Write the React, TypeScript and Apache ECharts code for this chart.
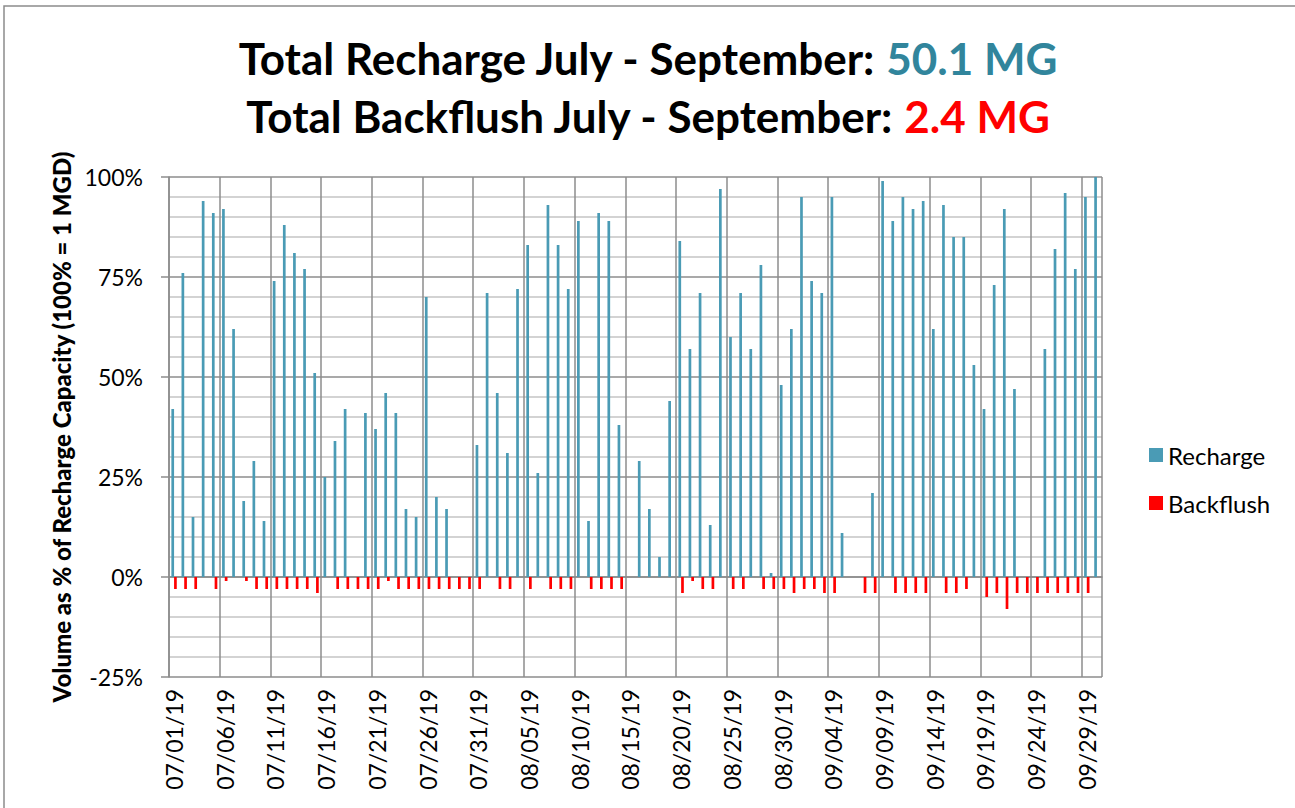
import React, { useEffect, useRef } from "react";
import * as echarts from "echarts";

const monthLengths = [
  { m: "07", days: 31 },
  { m: "08", days: 31 },
  { m: "09", days: 30 },
];
const dates: string[] = [];
monthLengths.forEach(({ m, days }) => {
  for (let d = 1; d <= days; d++) dates.push(`${m}/${String(d).padStart(2, "0")}/19`);
});

// % of recharge capacity, one value per day (null = no recharge that day)
const rechargeJuly = [42, 76, 15, 94, 91, 92, 62, 19, 29, 14, 74, 88, 81, 77, 51, 25, 34, 42, null, 41, 37, 46, 41, 17, 15, 70, 20, 17, null, null, 33];
const rechargeAug = [71, 46, 31, 72, 83, 26, 93, 83, 72, 89, 14, 91, 89, 38, null, 29, 17, 5, 44, 84, 57, 71, 13, 97, 60, 71, 57, 78, 1, 48, 62];
const rechargeSep = [95, 74, 71, 95, 11, null, null, 21, 99, 89, 95, 92, 94, 62, 93, 85, 85, 53, 42, 73, 92, 47, null, null, 57, 82, 96, 77, 95, 100];

const backflushJuly = [-3, -3, -3, null, -3, -1, null, -1, -3, -3, -3, -3, -3, -3, -4, null, -3, -3, -3, -3, -3, -1, -3, -3, -3, -3, -3, -3, -3, -3, -3];
const backflushAug = [null, -3, -3, null, -3, null, -3, -3, -3, null, -3, -3, -3, -3, null, null, null, null, null, -4, -1, -3, -3, null, -3, -3, null, -3, -3, -3, -4];
const backflushSep = [-3, -3, -4, -4, null, null, -4, -4, null, -4, -4, -4, -4, null, -4, -4, -3, null, -5, -4, -8, -4, -4, -4, -4, -4, -4, -4, -4, null];

const recharge = [...rechargeJuly, ...rechargeAug, ...rechargeSep];
const backflush = [...backflushJuly, ...backflushAug, ...backflushSep];

const yTicks = { min: -25, max: 100, interval: 25 };

const FONT = "Lato";
const TEAL = "#4A9BB5";
const TEAL_TITLE = "#31859C";
const RED = "#FF0000";

export default function App() {
  const ref = useRef<HTMLDivElement>(null);

  useEffect(() => {
    document.body.style.margin = "0";
    const chart = echarts.init(ref.current!, undefined, { renderer: "svg" });
    chart.setOption({
      animation: false,
      backgroundColor: "#ffffff",
      textStyle: { fontFamily: FONT },
      title: {
        left: "center",
        top: 24,
        text:
          "{a|Total Recharge July - September: }{b|50.1 MG}\n{a|Total Backflush July - September: }{c|2.4 MG}",
        textStyle: {
          rich: {
            a: { fontFamily: FONT, fontWeight: "bold", fontSize: 44, color: "#000", lineHeight: 58 },
            b: { fontFamily: FONT, fontWeight: "bold", fontSize: 44, color: TEAL_TITLE, lineHeight: 58 },
            c: { fontFamily: FONT, fontWeight: "bold", fontSize: 44, color: RED, lineHeight: 58 },
          },
        },
      },
      graphic: [
        {
          type: "rect",
          shape: { x: 4, y: 6, width: 1300, height: 820 },
          style: { fill: "none", stroke: "#8c8c8c", lineWidth: 1.5 },
          silent: true,
        },
      ],
      legend: {
        orient: "vertical",
        left: 1144,
        top: 438,
        itemGap: 24,
        itemWidth: 14,
        itemHeight: 14,
        icon: "rect",
        textStyle: { fontFamily: FONT, fontSize: 24, color: "#000" },
        data: ["Recharge", "Backflush"],
      },
      grid: { left: 169, right: 193, top: 177, bottom: 131, containLabel: false },
      xAxis: {
        type: "category",
        data: dates,
        boundaryGap: true,
        axisLine: { show: true, lineStyle: { color: "#8c8c8c", width: 1.5 } },
        axisTick: { show: false },
        axisLabel: {
          interval: 4,
          rotate: 90,
          margin: 12,
          fontFamily: FONT,
          fontSize: 23,
          color: "#000",
        },
        splitLine: { show: true, interval: 4, lineStyle: { color: "#8c8c8c", width: 1.5 } },
      },
      yAxis: {
        type: "value",
        min: yTicks.min,
        max: yTicks.max,
        interval: yTicks.interval,
        name: "Volume as % of Recharge Capacity (100% = 1 MGD)",
        nameLocation: "middle",
        nameGap: 96,
        nameTextStyle: { fontFamily: FONT, fontWeight: 900, fontSize: 24, color: "#000" },
        axisLine: { show: true, lineStyle: { color: "#8c8c8c", width: 1.5 } },
        axisTick: { show: true, length: 8, lineStyle: { color: "#8c8c8c", width: 1.5 } },
        axisLabel: {
          formatter: (v: number) => `${v}%`,
          margin: 26,
          fontFamily: FONT,
          fontSize: 23,
          color: "#000",
        },
        splitLine: { show: true, lineStyle: { color: "#8c8c8c", width: 1.5 } },
        minorTick: { show: false, splitNumber: 5 },
        minorSplitLine: { show: true, lineStyle: { color: "#c4c4c4", width: 1.5 } },
      },
      series: [
        {
          name: "Recharge",
          type: "bar",
          data: recharge,
          barWidth: 2.7,
          barGap: "0%",
          itemStyle: { color: TEAL },
        },
        {
          name: "Backflush",
          type: "bar",
          data: backflush,
          barWidth: 2.7,
          barGap: "0%",
          itemStyle: { color: RED },
        },
      ],
    });
    return () => chart.dispose();
  }, []);

  return (
    <div
      ref={ref}
      style={{ position: "fixed", left: 0, top: 0, width: 1295, height: 808 }}
    />
  );
}
